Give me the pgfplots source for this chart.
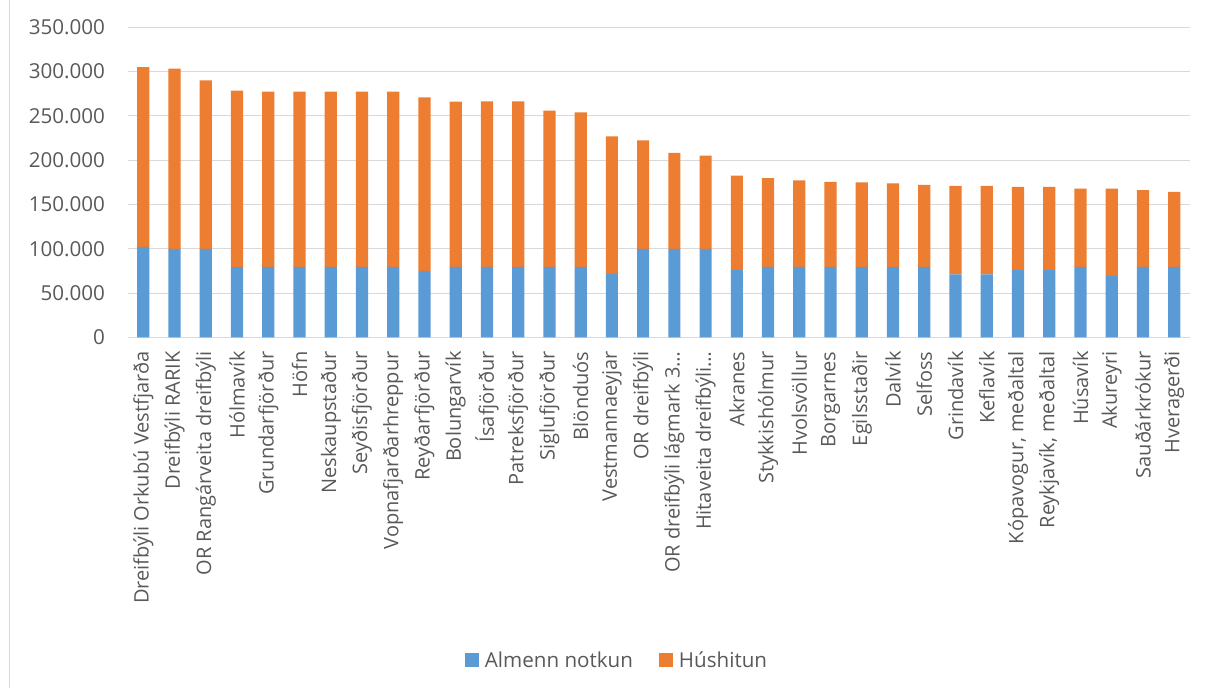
\documentclass[border=0pt]{standalone}
\usepackage{fontspec}
\setmainfont{Open Sans}
\usepackage{pgfplots}
\usepackage{pgfplotstable}
\pgfplotsset{compat=1.18}
\definecolor{cblue}{HTML}{5B9BD5}
\definecolor{corange}{HTML}{ED7D31}
\definecolor{cgrid}{HTML}{D9D9D9}
\definecolor{ctext}{HTML}{595959}
\pgfplotstableread{
x a b
0 102000 203000
1 100000 203400
2 100000 190200
3 79500 199000
4 79500 197900
5 79500 197900
6 79500 197900
7 79500 197900
8 79500 197900
9 75000 196000
10 79500 186700
11 79500 186900
12 79500 186900
13 79500 176500
14 79500 174600
15 71500 155500
16 100000 122500
17 100000 108300
18 100000 105300
19 76000 106700
20 79500 100200
21 79500 97600
22 79500 96100
23 79500 95400
24 79500 94200
25 79500 92700
26 71000 100000
27 71000 100000
28 76000 93900
29 76000 93900
30 79500 88500
31 69000 99000
32 79500 86700
33 79500 84800
}\data
\begin{document}
\begin{tikzpicture}
\path[use as bounding box] (0,0) rectangle (1208bp,688bp);
\draw[cgrid, line width=1bp] (9bp,0) -- (9bp,688bp);
\begin{axis}[
  at={(127.7bp,350.7bp)}, anchor=south west,
  scale only axis, width=1062.1bp, height=309.9bp,
  ybar stacked, bar width=0.39,
  xmin=-0.5, xmax=33.5, ymin=0, ymax=350000,
  xtick=data,
  xticklabels={Dreifbýli Orkubú Vestfjarða, Dreifbýli RARIK, OR Rangárveita dreifbýli, Hólmavík, Grundarfjörður, Höfn, Neskaupstaður, Seyðisfjörður, Vopnafjarðarhreppur, Reyðarfjörður, Bolungarvík, Ísafjörður, Patreksfjörður, Siglufjörður, Blönduós, Vestmannaeyjar, OR dreifbýli, OR dreifbýli lágmark 3…, Hitaveita dreifbýli…, Akranes, Stykkishólmur, Hvolsvöllur, Borgarnes, Egilsstaðir, Dalvík, Selfoss, Grindavík, Keflavík, {Kópavogur, meðaltal}, {Reykjavík, meðaltal}, Húsavík, Akureyri, Sauðárkrókur, Hveragerði},
  ytick={0,50000,100000,150000,200000,250000,300000,350000},
  yticklabels={0,50.000,100.000,150.000,200.000,250.000,300.000,350.000},
  scaled y ticks=false,
  axis x line*=bottom, axis y line*=left,
  y axis line style={draw=none},
  x axis line style={draw=cgrid, line width=1bp},
  major tick length=0pt,
  ymajorgrids, grid style={cgrid, line width=1bp},
  tick label style={font=\fontsize{20bp}{24bp}\selectfont, text=ctext, inner sep=0pt},
  y tick label style={font=\fontsize{20.6bp}{24bp}\selectfont},
  x tick label style={rotate=90, anchor=east},
  xticklabel shift=14bp,
  yticklabel shift=22.5bp,
  legend style={at={(0.4607,-1.0413)}, anchor=center, draw=none, fill=none,
    legend columns=2, font=\fontsize{20.6bp}{24bp}\selectfont, text=ctext,
    /tikz/every odd column/.append style={column sep=4bp},
    /tikz/every even column/.append style={column sep=24bp}},
  legend cell align=left,
]
\addplot[fill=cblue, draw=none, legend image code/.code={\fill[cblue] (0bp,-7bp) rectangle (14bp,7bp);}] table[x=x, y=a] {\data};
\addlegendentry{Almenn notkun}
\addplot[fill=corange, draw=none, legend image code/.code={\fill[corange] (0bp,-7bp) rectangle (14bp,7bp);}] table[x=x, y=b] {\data};
\addlegendentry{Húshitun}
\end{axis}
\end{tikzpicture}
\end{document}
